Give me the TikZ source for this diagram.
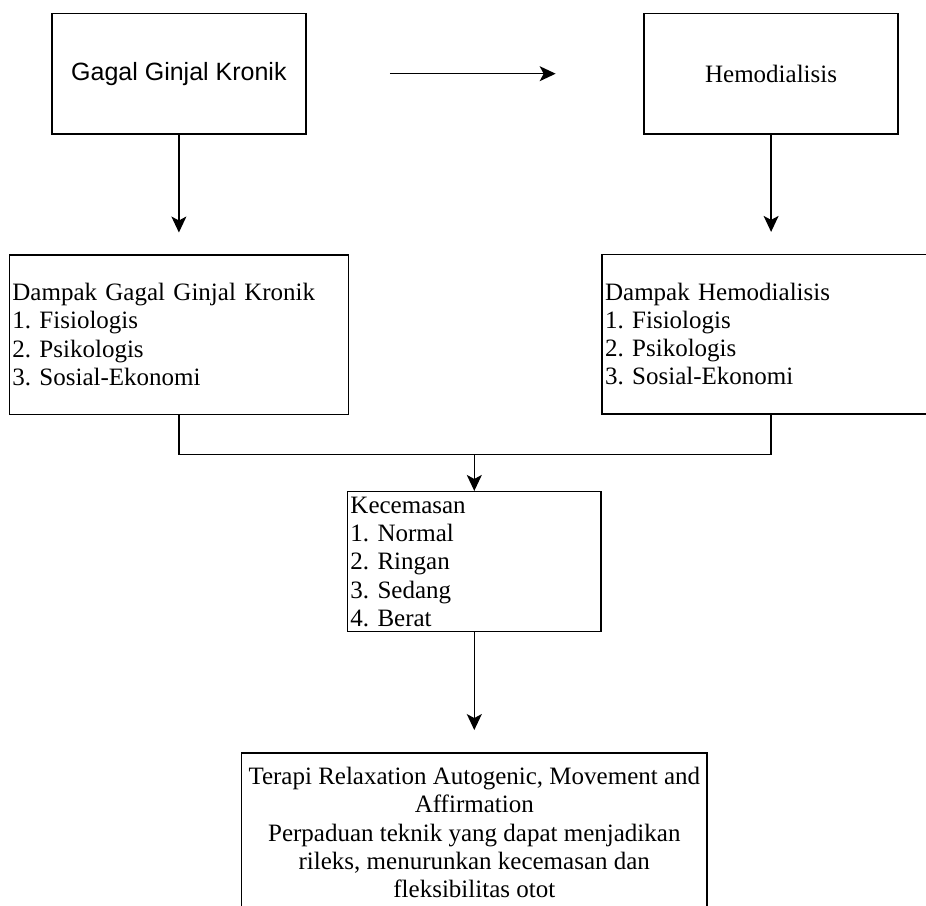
\documentclass[tikz,border=0pt]{standalone}
\usepackage{fontspec}
\setmainfont{Liberation Serif}
\newfontfamily\arialfont{Liberation Sans}
\usetikzlibrary{arrows.meta,positioning}

\begin{document}
\frenchspacing
\begin{tikzpicture}[
  x=1pt, y=1pt,
  box/.style={rectangle, draw, line width=1.5pt, inner xsep=3pt, inner ysep=0pt,
    font=\fontsize{25}{28.3}\selectfont},
  topbox/.style={box, minimum width=254pt, minimum height=120.7pt},
  listbox/.style={box, align=left, minimum height=159.5pt},
  arr/.style={-{Stealth[length=16pt, width=15pt, inset=4pt]}, line width=1.3pt},
  merge/.style={line width=1.3pt},
]
  \useasboundingbox (0,0) rectangle (926,-905);
  \clip (0,0) rectangle (926,-905);

  % top row
  \node[topbox, font=\arialfont\fontsize{25}{28.3}\selectfont] (gjk) at (178.9,-73.7) {Gagal Ginjal Kronik};
  \node[topbox, right=336.7pt of gjk] (hd) {Hemodialisis};

  % impacts
  \node[listbox, text width=333pt, below=119.3pt of gjk] (dgjk)
    {Dampak Gagal Ginjal Kronik\\1. Fisiologis\\2. Psikologis\\3. Sosial-Ekonomi};
  \node[listbox, text width=332pt, below=118.7pt of hd] (dhd)
    {Dampak Hemodialisis\\1. Fisiologis\\2. Psikologis\\3. Sosial-Ekonomi};

  % anxiety and therapy
  \node[box, align=left, text width=247.7pt, minimum height=140pt] (cemas) at (474.3,-561.7)
    {Kecemasan\\1. Normal\\2. Ringan\\3. Sedang\\4. Berat};
  \node[box, align=center, inner xsep=0pt, minimum width=465.6pt, minimum height=159pt, below=120pt of cemas] (terapi)
    {Terapi Relaxation Autogenic, Movement and\\Affirmation\\Perpaduan teknik yang dapat menjadikan\\rileks, menurunkan kecemasan dan\\fleksibilitas otot};

  \draw[arr, shorten <=83.3pt, shorten >=87.7pt] (gjk) -- (hd);
  \draw[arr, shorten >=21.6pt] (gjk) -- (dgjk);
  \draw[arr, shorten >=21.6pt] (hd) -- (dhd);

  % merge into Kecemasan
  \path (dgjk.south) ++(0,-39.3) coordinate (jl);
  \coordinate (jn) at (jl -| cemas.north);
  \draw[merge] (dgjk.south) -- (jl) -| (dhd.south);
  \draw[arr] (jn) -- (cemas);

  \draw[arr, shorten >=22.4pt] (cemas) -- (terapi);
\end{tikzpicture}
\end{document}
